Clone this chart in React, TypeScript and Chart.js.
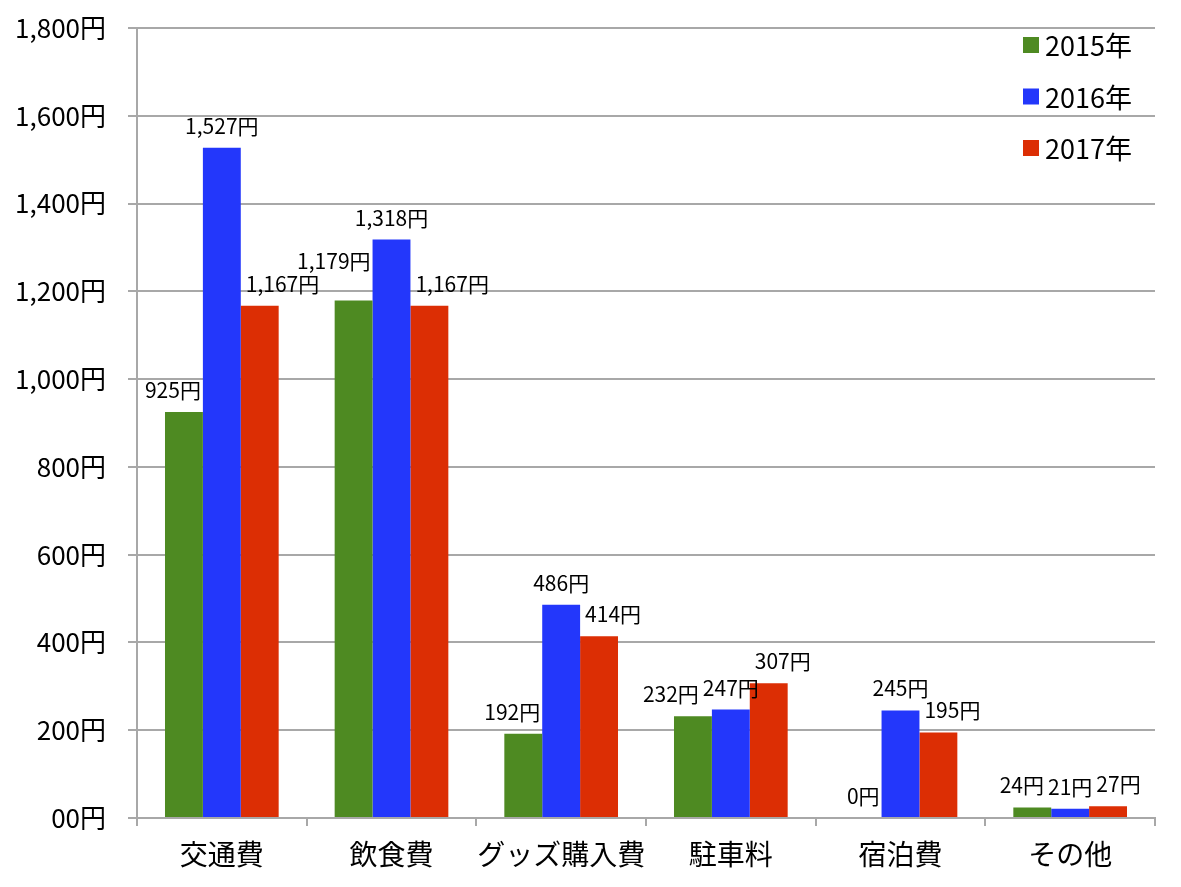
import React, { useEffect, useRef } from "react";
import { Chart, registerables } from "chart.js";

Chart.register(...registerables);

const categories = ["交通費", "飲食費", "グッズ購入費", "駐車料", "宿泊費", "その他"];
const seriesLabels = ["2015年", "2016年", "2017年"];
const values2015 = [925, 1179, 192, 232, 0, 24];
const values2016 = [1527, 1318, 486, 247, 245, 21];
const values2017 = [1167, 1167, 414, 307, 195, 27];
const seriesColors = ["#4e8a22", "#2337fb", "#dc2e04"];
const yTickValues = [0, 200, 400, 600, 800, 1000, 1200, 1400, 1600, 1800];
const yTickLabels = ["00円", "200円", "400円", "600円", "800円", "1,000円", "1,200円", "1,400円", "1,600円", "1,800円"];

const FONT = "'Noto Sans CJK JP', 'Noto Sans', sans-serif";
const GRID = "#a8a8a8";

const fmt = (v: number) => v.toLocaleString("en-US") + "円";

type Box = { text: string; left: number; w: number; base: number };

const LABEL_H = 17;
const GAP = 4;

const overlaps = (a: Box, b: Box) =>
  a.left < b.left + b.w + GAP &&
  b.left < a.left + a.w + GAP &&
  a.base - LABEL_H < b.base + 2 &&
  b.base - LABEL_H < a.base + 2;

const labelPlugin = {
  id: "barLabels",
  afterDatasetsDraw(chart: any) {
    const ctx = chart.ctx;
    ctx.save();
    ctx.font = `21px ${FONT}`;
    ctx.fillStyle = "#000";
    ctx.textBaseline = "alphabetic";
    ctx.textAlign = "left";
    const nCat = chart.data.labels.length;
    const nDs = chart.data.datasets.length;
    const placed: Box[] = [];
    for (let i = 0; i < nCat; i++) {
      const group: Box[] = [];
      for (let di = 0; di < nDs; di++) {
        const ds = chart.data.datasets[di];
        const el = chart.getDatasetMeta(di).data[i];
        const p = el.getProps(["x", "y", "width"], true);
        const text = fmt(ds.data[i]);
        const w = ctx.measureText(text).width;
        let left: number;
        if (di === 0) left = p.x + p.width / 2 - 2 - w;
        else if (di === nDs - 1) left = p.x - p.width / 2 + 5;
        else left = p.x - w / 2;
        group.push({ text, left, w, base: p.y - 14 });
      }
      // spread horizontally within a group
      for (let k = 0; k < group.length - 1; k++) {
        const a = group[k];
        const b = group[k + 1];
        if (overlaps(a, b)) {
          const need = a.left + a.w + GAP - b.left;
          if (k === 0) a.left -= need;
          else b.left += need;
        }
      }
      // lift labels that collide with earlier groups
      for (const b of group) {
        let guard = 0;
        let hit = placed.find((a) => overlaps(a, b));
        while (hit && guard < 20) {
          b.base = hit.base - LABEL_H - 6;
          hit = placed.find((a) => overlaps(a, b));
          guard++;
        }
      }
      group.forEach((b) => placed.push(b));
    }
    placed.forEach((b) => ctx.fillText(b.text, b.left, b.base));
    ctx.restore();
  },
};

const legendPlugin = {
  id: "customLegend",
  afterDraw(chart: any) {
    const ctx = chart.ctx;
    ctx.save();
    ctx.font = `27px ${FONT}`;
    ctx.textAlign = "left";
    ctx.textBaseline = "middle";
    chart.data.datasets.forEach((ds: any, i: number) => {
      const cy = 45 + i * 51.5;
      ctx.fillStyle = ds.backgroundColor;
      ctx.fillRect(1023, cy - 8, 16, 16);
      ctx.fillStyle = "#000";
      ctx.fillText(ds.label, 1045, cy + 1);
    });
    ctx.restore();
  },
};

export default function App() {
  const ref = useRef<HTMLCanvasElement | null>(null);
  useEffect(() => {
    if (!ref.current) return;
    const seriesValues = [values2015, values2016, values2017];
    const chart = new Chart(ref.current, {
      type: "bar",
      data: {
        labels: categories,
        datasets: seriesLabels.map((label, i) => ({
          label,
          data: seriesValues[i],
          backgroundColor: seriesColors[i],
          borderWidth: 0,
          categoryPercentage: 0.67,
          barPercentage: 1,
        })),
      },
      options: {
        responsive: false,
        animation: false,
        layout: { padding: { top: 28, right: 26, bottom: 0, left: 0 } },
        plugins: {
          legend: { display: false },
          tooltip: { enabled: false },
        },
        scales: {
          x: {
            offset: true,
            grid: {
              display: true,
              offset: true,
              drawOnChartArea: false,
              drawTicks: true,
              tickLength: 8,
              color: GRID,
              lineWidth: 2,
            },
            border: { display: true, color: GRID, width: 2 },
            ticks: {
              color: "#000",
              font: { family: FONT, size: 28 },
              padding: 12,
              maxRotation: 0,
              autoSkip: false,
            },
            afterFit(scale: any) {
              scale.height = 69;
              scale.paddingLeft = 0;
              scale.paddingRight = 0;
            },
          },
          y: {
            min: 0,
            max: 1800,
            grid: {
              color: GRID,
              lineWidth: 2,
              tickLength: 9,
            },
            border: { display: true, color: GRID, width: 2 },
            afterBuildTicks(scale: any) {
              scale.ticks = yTickValues.map((v) => ({ value: v }));
            },
            ticks: {
              color: "#000",
              font: { family: FONT, size: 26 },
              padding: 22,
              callback(value: any) {
                const idx = yTickValues.indexOf(Number(value));
                return idx >= 0 ? yTickLabels[idx] : "";
              },
            },
            afterFit(scale: any) {
              scale.width = 137;
              scale.paddingTop = 0;
              scale.paddingBottom = 0;
            },
          },
        },
      },
      plugins: [labelPlugin, legendPlugin],
    });
    return () => chart.destroy();
  }, []);
  return (
    <div style={{ position: "absolute", left: 0, top: 0, width: 1181, height: 887, background: "#fff" }}>
      <canvas ref={ref} width={1181} height={887} />
    </div>
  );
}
